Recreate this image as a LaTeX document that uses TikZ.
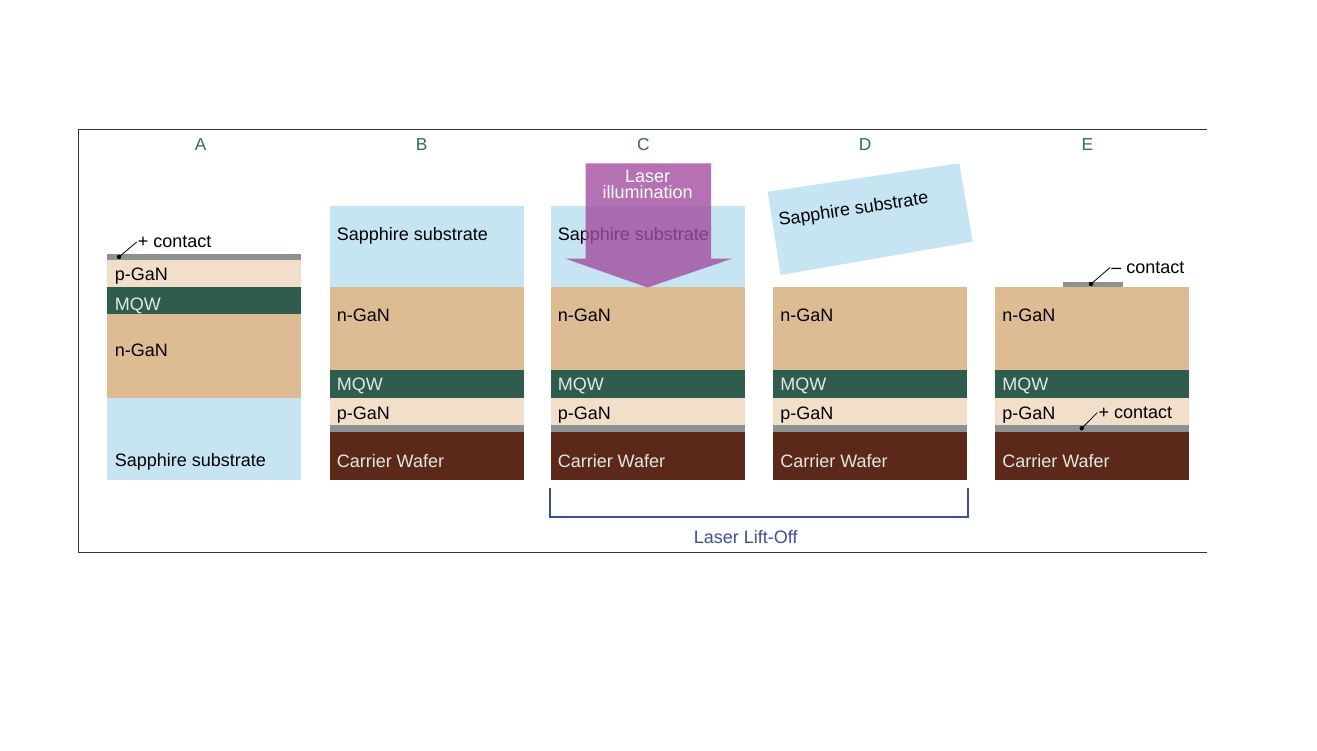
\documentclass[tikz,border=0pt]{standalone}
\usepackage{fontspec}
\setmainfont{Liberation Sans}
\definecolor{sapphire}{HTML}{C7E4F3}
\definecolor{ngan}{HTML}{DDBB93}
\definecolor{mqw}{HTML}{2F5C4D}
\definecolor{pgan}{HTML}{F1DFCA}
\definecolor{contactgray}{HTML}{8C9194}
\definecolor{wafer}{HTML}{5C2819}
\definecolor{titlegreen}{HTML}{2E7148}
\definecolor{liftblue}{HTML}{3D4E9A}
\definecolor{laser}{HTML}{A24DA0}
\definecolor{lighttext}{HTML}{E2E8E4}
\begin{document}
\begin{tikzpicture}[x=0.75pt,y=0.75pt,yscale=-1,xscale=1,
  lbl/.style={anchor=base west,inner sep=0.75pt,font=\fontsize{13.5}{14}\selectfont},
  lightlbl/.style={lbl,text=lighttext},
  paneltitle/.style={anchor=base,inner sep=0.75pt,text=titlegreen,font=\fontsize{13}{14}\selectfont},
  leader/.style={line width=0.6pt}]
\useasboundingbox (0,0) rectangle (1317,750);
% frame
\draw[line width=1pt,black!80] (1207,129.3) -- (78.3,129.3) -- (78.3,552.7) -- (1207,552.7);
% panel A
\fill[sapphire] (107,397.7) rectangle (301,480);
\fill[ngan] (107,314.3) rectangle (301,397.7);
\fill[mqw] (107,287.3) rectangle (301,314.3);
\fill[pgan] (107,260) rectangle (301,287.3);
\fill[contactgray] (107,254.3) rectangle (301,260);
\node[lbl] (pganA) at (113.5,280) {p-GaN};
\node[lightlbl] (mqwA) at (113.5,310) {MQW};
\node[lbl] (nganA) at (113.5,356.7) {n-GaN};
\node[lbl] (sapphireA) at (113.5,466.7) {Sapphire substrate};
\coordinate (dotA) at (119,257);
\node[lbl] (contactA) at (136.7,247.7) {+ contact};
\fill (dotA) circle (2.2);
\draw[leader] (dotA) -- (contactA.west);
% panels B to E
\foreach \x/\p in {329.5/B,550.5/C,773/D,995/E}{
  \fill[ngan] (\x,287.3) rectangle ++(194,82.7);
  \fill[mqw] (\x,370) rectangle ++(194,27.7);
  \fill[pgan] (\x,397.7) rectangle ++(194,27.6);
  \fill[contactgray] (\x,425.3) rectangle ++(194,6.4);
  \fill[wafer] (\x,431.7) rectangle ++(194,48.3);
  \node[lbl] (ngan\p) at (\x+6,321.7) {n-GaN};
  \node[lightlbl] (mqw\p) at (\x+6,390.7) {MQW};
  \node[lbl] (pgan\p) at (\x+6,419) {p-GaN};
  \node[lightlbl] (wafer\p) at (\x+6,467.7) {Carrier Wafer};
}
% sapphire on B and C
\foreach \x/\p in {329.5/B,550.5/C}{
  \fill[sapphire] (\x,206) rectangle ++(194,81.3);
  \node[lbl] (sapphire\p) at (\x+6,240) {Sapphire substrate};
}
% lifted sapphire in D
\fill[sapphire] (767.7,191.7) -- (959.3,163.3) -- (972.7,241.7) -- (780.7,275) -- cycle;
\node[lbl,rotate=8.5] (sapphireD) at (778.3,226) {Sapphire substrate};
% laser
\fill[laser,opacity=0.8] (585.5,163.3) -- (711,163.3) -- (711,258.5) -- (732.5,258.5)
  -- (647.5,287.5) -- (565,258.5) -- (585.5,258.5) -- cycle;
\node[inner sep=0.75pt,align=center,text=white,font=\fontsize{13.5}{12}\selectfont] (laserText) at (647.7,184) {Laser\\illumination};
% contacts in E
\fill[contactgray] (1062.7,282) rectangle (1122.7,287.3);
\coordinate (dotEn) at (1091,284);
\node[lbl] (contactEn) at (1110,273.3) {-- contact};
\fill (dotEn) circle (2.2);
\draw[leader] (dotEn) -- (contactEn.west);
\coordinate (dotEp) at (1081.7,428.3);
\node[lbl] (contactEp) at (1097.3,418.3) {+ contact};
\fill (dotEp) circle (2.2);
\draw[leader] (dotEp) -- (contactEp.west);
% panel titles
\node[paneltitle] (titleA) at (200.7,150.7) {A};
\node[paneltitle] (titleB) at (421.7,150.7) {B};
\node[paneltitle] (titleC) at (643.3,150.7) {C};
\node[paneltitle] (titleD) at (865,150.7) {D};
\node[paneltitle] (titleE) at (1087.3,150.7) {E};
% laser lift-off bracket
\coordinate (liftL) at (550,488);
\coordinate (liftR) at (967.7,488);
\draw[liftblue,line width=1.8pt] (liftL) -- ++(0,28.7) -| (liftR);
\node[anchor=base,inner sep=0.75pt,text=liftblue,font=\fontsize{13.5}{14}\selectfont] (liftText) at (745.7,543.3) {Laser Lift-Off};
\end{tikzpicture}
\end{document}
